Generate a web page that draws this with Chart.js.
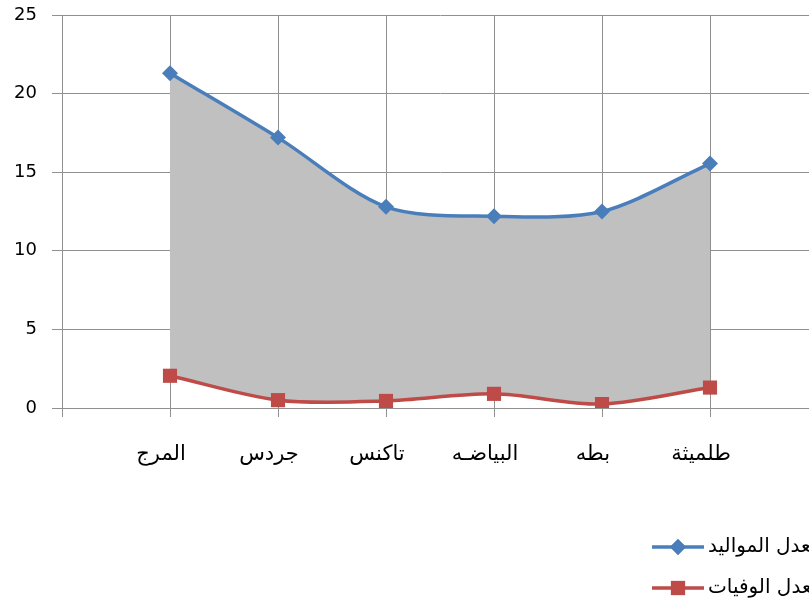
<!DOCTYPE html>
<html>
<head>
<meta charset="utf-8">
<script src="https://cdn.jsdelivr.net/npm/chart.js@4/dist/chart.umd.min.js"></script>
<style>
    html, body { margin: 0; padding: 0; background: #fff; overflow: hidden; }
    canvas { display: block; }
</style>
</head>
<body>
<canvas id="chart-rates" width="830" height="598"></canvas>
<script>
const cities = ['المرج', 'جردس', 'تاكنس', 'البياضـه', 'بطه', 'طلميثة'];
const births = [21.3, 17.2, 12.8, 12.2, 12.5, 15.55];
const deaths = [2.05, 0.5, 0.45, 0.9, 0.25, 1.3];
const yTicks = [0, 5, 10, 15, 20, 25];
const seriesNames = ['معدل المواليد', 'معدل الوفيات'];

const blue = '#4a7ebb';
const red = '#be4b48';
const gridColor = '#909090';
const fontFamily = '"DejaVu Sans", sans-serif';

// empty slot on both ends of the category axis
const labels = [''].concat(cities, ['']);
const pad = arr => [null].concat(arr, [null]);

// legend drawn by hand at the lower right
const legendPlugin = {
    id: 'rateLegend',
    afterDraw(chart) {
        const ctx = chart.ctx;
        const items = [
            { name: seriesNames[0], color: blue, style: 'rectRot', radius: 8, y: 547 },
            { name: seriesNames[1], color: red, style: 'rect', radius: 10, y: 588 }
        ];
        ctx.save();
        items.forEach(item => {
            ctx.strokeStyle = item.color;
            ctx.lineWidth = 3.5;
            ctx.beginPath();
            ctx.moveTo(652, item.y);
            ctx.lineTo(704, item.y);
            ctx.stroke();
            ctx.fillStyle = item.color;
            Chart.helpers.drawPoint(ctx, { pointStyle: item.style, radius: item.radius, borderWidth: 0 }, 678, item.y);
            ctx.fill();
            ctx.fillStyle = '#000';
            ctx.font = '20px ' + fontFamily;
            ctx.direction = 'rtl';
            ctx.textAlign = 'left';
            ctx.textBaseline = 'middle';
            ctx.fillText(item.name, 708, item.y);
        });
        ctx.restore();
    }
};

new Chart(document.getElementById('chart-rates'), {
    type: 'line',
    data: {
        labels: labels,
        datasets: [
            {
                // gray band between the two rates
                data: pad(births),
                borderWidth: 0,
                pointRadius: 0,
                tension: 0.3,
                backgroundColor: '#c0c0c0',
                fill: 1,
                order: 10
            },
            {
                data: pad(deaths),
                borderWidth: 0,
                pointRadius: 0,
                tension: 0.3,
                fill: false,
                order: 11
            },
            {
                label: seriesNames[0],
                data: pad(births),
                borderColor: blue,
                backgroundColor: blue,
                borderWidth: 3.5,
                tension: 0.3,
                pointStyle: 'rectRot',
                pointRadius: 8,
                pointBorderWidth: 0,
                fill: false,
                order: 1
            },
            {
                label: seriesNames[1],
                data: pad(deaths),
                borderColor: red,
                backgroundColor: red,
                borderWidth: 3.5,
                tension: 0.3,
                pointStyle: 'rect',
                pointRadius: 10,
                pointBorderWidth: 0,
                fill: false,
                order: 0
            }
        ]
    },
    options: {
        responsive: false,
        animation: false,
        layout: { padding: { top: 15, right: 12, left: 0, bottom: 0 } },
        scales: {
            x: {
                offset: false,
                grid: { color: gridColor, tickLength: 9 },
                border: { color: gridColor },
                ticks: {
                    color: '#000',
                    padding: 25,
                    labelOffset: -9,
                    maxRotation: 0,
                    autoSkip: false,
                    font: { family: fontFamily, size: 21 }
                },
                afterFit(scale) {
                    scale.height = 190;
                    scale.paddingLeft = 0;
                    scale.paddingRight = 0;
                }
            },
            y: {
                min: 0,
                max: 25,
                afterBuildTicks(scale) { scale.ticks = yTicks.map(v => ({ value: v })); },
                grid: { color: gridColor, tickLength: 10 },
                border: { color: gridColor },
                ticks: {
                    color: '#000',
                    padding: 15,
                    font: { family: fontFamily, size: 18 }
                },
                afterFit(scale) {
                    scale.width = 62;
                    scale.paddingTop = 0;
                    scale.paddingBottom = 0;
                }
            }
        },
        plugins: {
            legend: { display: false },
            tooltip: { enabled: false }
        }
    },
    plugins: [legendPlugin]
});
</script>
</body>
</html>
